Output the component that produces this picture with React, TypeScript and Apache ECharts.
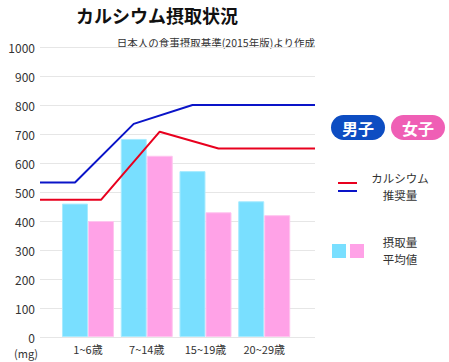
import React, { useEffect, useRef } from "react";
import * as echarts from "echarts";

const categories = ["1~6歳", "7~14歳", "15~19歳", "20~29歳"];
const maleIntake = [460, 683, 572, 468];
const femaleIntake = [400, 625, 430, 420];
const maleRecommended = [533, 735, 800, 800];
const femaleRecommended = [473, 708, 650, 650];
const yTicks = [0, 100, 200, 300, 400, 500, 600, 700, 800, 900, 1000];

const FONT = "'Noto Sans CJK JP', 'Noto Sans', sans-serif";
const W = 449;
const H = 362;
const GRID_LEFT = 40;
const GRID_RIGHT_X = 315;
const GRID_TOP = 47;
const GRID_BOTTOM_Y = 337;
const BAR_LEFT = 58.6;
const BAR_RIGHT_X = 293.6;
const BAR_W = 26;

export default function App() {
  const ref = useRef<HTMLDivElement>(null);
  useEffect(() => {
    if (!ref.current) return;
    const chart = echarts.init(ref.current, undefined, { renderer: "svg" });
    const band = (BAR_RIGHT_X - BAR_LEFT) / categories.length;
    const toV = (px: number) => (px - BAR_LEFT) / band - 0.5;
    const xMin = toV(GRID_LEFT);
    const xMax = toV(GRID_RIGHT_X);
    const off = BAR_W / 2 / band;
    const lineData = (vals: number[], shift: number) => {
      const pts: number[][] = vals.map((v, i) => [i + shift, v]);
      return [[xMin, vals[0]], ...pts, [xMax, vals[vals.length - 1]]];
    };
    const yMax = yTicks[yTicks.length - 1];
    const legendText = (text: string, x: number, y: number) => ({
      type: "text",
      x,
      y,
      style: { text, font: `11.5px ${FONT}`, fill: "#333", align: "center", verticalAlign: "middle" },
    });
    chart.setOption({
      animation: false,
      backgroundColor: "#ffffff",
      textStyle: { fontFamily: FONT },
      grid: [
        { left: GRID_LEFT, width: GRID_RIGHT_X - GRID_LEFT, top: GRID_TOP, height: GRID_BOTTOM_Y - GRID_TOP },
        { left: BAR_LEFT, width: BAR_RIGHT_X - BAR_LEFT, top: GRID_TOP, height: GRID_BOTTOM_Y - GRID_TOP },
      ],
      xAxis: [
        { type: "value", gridIndex: 0, min: xMin, max: xMax, show: false },
        {
          type: "category",
          gridIndex: 1,
          data: categories,
          axisLine: { show: false },
          axisTick: { show: false },
          axisLabel: { color: "#333", fontSize: 11, fontFamily: FONT, margin: 6 },
        },
      ],
      yAxis: [
        {
          type: "value",
          gridIndex: 0,
          min: 0,
          max: yMax,
          interval: 100,
          axisLine: { show: false },
          axisTick: { show: false },
          axisLabel: {
            color: "#333",
            fontSize: 12,
            fontFamily: FONT,
            margin: 5,
            formatter: (v: number) => String(v),
          },
          splitLine: { lineStyle: { color: "#e6e6e6", width: 1 } },
        },
        { type: "value", gridIndex: 1, min: 0, max: yMax, show: false, splitLine: { show: false } },
      ],
      series: [
        {
          type: "bar",
          xAxisIndex: 1,
          yAxisIndex: 1,
          data: maleIntake,
          barWidth: BAR_W,
          barGap: "0%",
          itemStyle: { color: "#79dfff", borderColor: "#a8ebff", borderWidth: 1 },
        },
        {
          type: "bar",
          xAxisIndex: 1,
          yAxisIndex: 1,
          data: femaleIntake,
          barWidth: BAR_W,
          barGap: "0%",
          itemStyle: { color: "#ffa2e7", borderColor: "#ffc4ef", borderWidth: 1 },
        },
        {
          type: "line",
          xAxisIndex: 0,
          yAxisIndex: 0,
          data: lineData(maleRecommended, -off),
          symbol: "none",
          lineStyle: { color: "#0a14c8", width: 2 },
          z: 5,
        },
        {
          type: "line",
          xAxisIndex: 0,
          yAxisIndex: 0,
          data: lineData(femaleRecommended, off),
          symbol: "none",
          lineStyle: { color: "#e8001e", width: 2 },
          z: 5,
        },
      ],
      graphic: [
        {
          type: "text",
          x: 157,
          y: 15,
          style: {
            text: "カルシウム摂取状況",
            font: `bold 18px ${FONT}`,
            fill: "#111",
            align: "center",
            verticalAlign: "middle",
          },
        },
        {
          type: "text",
          x: 315,
          y: 42,
          style: {
            text: "日本人の食事摂取基準(2015年版)より作成",
            font: `10.5px ${FONT}`,
            fill: "#333",
            align: "right",
            verticalAlign: "middle",
          },
        },
        {
          type: "text",
          x: 38,
          y: 353,
          style: {
            text: "(mg)",
            font: `11px ${FONT}`,
            fill: "#333",
            align: "right",
            verticalAlign: "middle",
          },
        },
        { type: "rect", shape: { x: 331, y: 115, width: 54, height: 25, r: 12.5 }, style: { fill: "#0d4dc2" } },
        {
          type: "text",
          x: 358,
          y: 127.5,
          style: { text: "男子", font: `bold 16px ${FONT}`, fill: "#fff", align: "center", verticalAlign: "middle" },
        },
        { type: "rect", shape: { x: 391, y: 115, width: 54, height: 25, r: 12.5 }, style: { fill: "#ef5fb5" } },
        {
          type: "text",
          x: 418,
          y: 127.5,
          style: { text: "女子", font: `bold 16px ${FONT}`, fill: "#fff", align: "center", verticalAlign: "middle" },
        },
        { type: "line", shape: { x1: 338, y1: 183, x2: 357, y2: 183 }, style: { stroke: "#e8001e", lineWidth: 2 } },
        { type: "line", shape: { x1: 338, y1: 191, x2: 357, y2: 191 }, style: { stroke: "#0a14c8", lineWidth: 2 } },
        legendText("カルシウム", 400, 178),
        legendText("推奨量", 400, 195),
        { type: "rect", shape: { x: 332, y: 244, width: 14, height: 14 }, style: { fill: "#79dfff" } },
        { type: "rect", shape: { x: 350, y: 244, width: 14, height: 14 }, style: { fill: "#ffa2e7" } },
        legendText("摂取量", 400, 242),
        legendText("平均値", 400, 259),
      ],
    });
    return () => chart.dispose();
  }, []);
  return (
    <div style={{ position: "absolute", left: 0, top: 0, width: W, height: H }}>
      <div ref={ref} style={{ width: W, height: H }} />
    </div>
  );
}
